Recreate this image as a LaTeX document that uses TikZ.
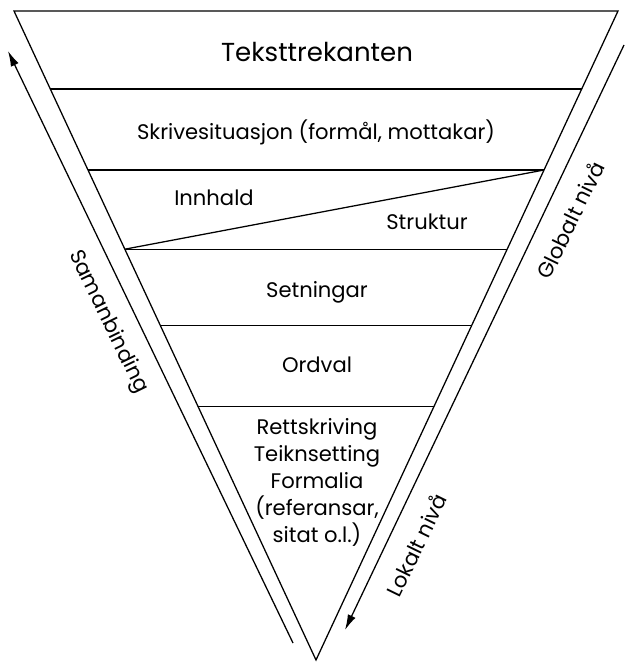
\documentclass[tikz,border=0pt]{standalone}
\usepackage{fontspec}
\setmainfont{Poppins}
\usetikzlibrary{arrows.meta,calc}
\begin{document}
\begin{tikzpicture}[x=0.025cm,y=-0.025cm,line width=0.9pt,
	lbl/.style={font=\fontsize{15}{19.2}\selectfont, inner sep=0pt},
	flow/.style={-{Latex[length=11pt,width=6pt]}}]
	\useasboundingbox (0,0) rectangle (624,662);
	\coordinate (tl) at (14,11);
	\coordinate (tr) at (618,11);
	\coordinate (bot) at (316,660);
	\draw (tl) -- (tr) -- (bot) -- cycle;
	
	\coordinate (l1) at ($(tl)!0.120!(bot)$);
	\coordinate (r1) at ($(tr)!0.120!(bot)$);
	\coordinate (l2) at ($(tl)!0.245!(bot)$);
	\coordinate (r2) at ($(tr)!0.245!(bot)$);
	\coordinate (l3) at ($(tl)!0.367!(bot)$);
	\coordinate (r3) at ($(tr)!0.367!(bot)$);
	\coordinate (l4) at ($(tl)!0.485!(bot)$);
	\coordinate (r4) at ($(tr)!0.485!(bot)$);
	\coordinate (l5) at ($(tl)!0.609!(bot)$);
	\coordinate (r5) at ($(tr)!0.609!(bot)$);
	\draw (l1) -- (r1);
	\draw (l2) -- (r2);
	\draw (l3) -- (r3);
	\draw (l4) -- (r4);
	\draw (l5) -- (r5);
	\draw (l3) -- (r2);
	
	\node[lbl, font=\fontsize{18.5}{22}\selectfont] (title) at (317,52) {Teksttrekanten};
	\node[lbl] (sit) at (316,132) {Skrivesituasjon (formål, mottakar)};
	\node[lbl] (innhald) at (214,198) {Innhald};
	\node[lbl] (struktur) at (427,222) {Struktur};
	\node[lbl] (setn) at (317,292) {Setningar};
	\node[lbl] (ordval) at (317,365) {Ordval};
	\node[lbl, align=center] (rett) at (317,482) {Rettskriving\\Teiknsetting\\Formalia\\(referansar,\\sitat o.l.)};
	
	\coordinate (samstart) at (293,643);
	\coordinate (samend) at (8,51);
	\coordinate (nivstart) at (624,45);
	\coordinate (nivend) at (345,630);
	\draw[flow] (samstart) -- (samend);
	\draw[flow] (nivstart) -- (nivend);
	\node[lbl, rotate=-64] (saman) at (108,322) {Samanbinding};
	\node[lbl, rotate=64] (global) at (570,220) {Globalt nivå};
	\node[lbl, rotate=64] (lokal) at (416,545) {Lokalt nivå};
\end{tikzpicture}
\end{document}
